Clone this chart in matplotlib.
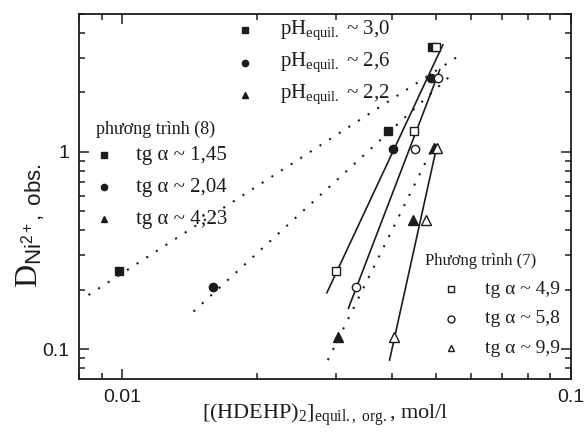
"""
Log-log plot of D(Ni2+) vs [(HDEHP)2] equil., org. with slope fits for
equation (8) (filled markers, dotted lines) and equation (7) (open markers, solid lines).
"""

import matplotlib
matplotlib.use("Agg")
import matplotlib.pyplot as plt
from matplotlib.ticker import FixedLocator, LogLocator, NullFormatter, FuncFormatter

# measured distribution ratios (same for both equations)
D_PH30 = [0.25, 1.27, 3.42]
D_PH26 = [0.206, 1.04, 2.38]
D_PH22 = [0.115, 0.452, 1.05]

# x values for equation (8) (filled markers)
X8_PH30 = [0.0098, 0.0391, 0.0489]
X8_PH26 = [0.0159, 0.0401, 0.0487]
X8_PH22 = [0.0303, 0.0445, 0.0495]

# x values for equation (7) (open markers)
X7_PH30 = [0.0300, 0.0447, 0.0500]
X7_PH26 = [0.0332, 0.0450, 0.0506]
X7_PH22 = [0.0403, 0.0474, 0.0502]

# fitted straight lines (end points)
FIT8_X = [[0.0084, 0.0574], [0.0144, 0.0535], [0.0287, 0.0497]]
FIT8_Y = [[0.188, 3.16], [0.155, 2.40], [0.0879, 1.10]]
FIT7_X = [[0.02856, 0.0518], [0.0319, 0.0510], [0.0394, 0.0503]]
FIT7_Y = [[0.193, 3.49], [0.161, 2.61], [0.0879, 1.085]]

PH_LABELS = ["~ 3,0", "~ 2,6", "~ 2,2"]
EQ8_LABELS = ["tg \u03b1 ~ 1,45", "tg \u03b1 ~ 2,04", "tg \u03b1 ~ 4;23"]
EQ7_LABELS = ["tg \u03b1 ~ 4,9", "tg \u03b1 ~ 5,8", "tg \u03b1 ~ 9,9"]

MARKERS = ["s", "o", "^"]
INK = "#1c1c1c"
SERIF = "Liberation Serif"

plt.rcParams["mathtext.fontset"] = "custom"
plt.rcParams["mathtext.rm"] = SERIF
plt.rcParams["mathtext.it"] = SERIF + ":italic"
plt.rcParams["mathtext.sf"] = "Liberation Sans"

fig = plt.figure(figsize=(5.87, 4.34), dpi=100)
ax = fig.add_axes([0.1346, 0.1267, 0.8381, 0.841])
ax.set_xscale("log")
ax.set_yscale("log")

# fits
for xs, ys in zip(FIT8_X, FIT8_Y):
    ax.plot(xs, ys, color=INK, lw=1.5, linestyle=(0, (1, 4.5)))
for xs, ys in zip(FIT7_X, FIT7_Y):
    ax.plot(xs, ys, color=INK, lw=1.2)

# data points
sizes = [6, 6, 6.5]
for xs, ys, m, s in zip([X8_PH30, X8_PH26, X8_PH22], [D_PH30, D_PH26, D_PH22], MARKERS, sizes):
    ax.plot(xs, ys, linestyle="none", marker=m, ms=s, color=INK, mec=INK)
for xs, ys, m, s in zip([X7_PH30, X7_PH26, X7_PH22], [D_PH30, D_PH26, D_PH22], MARKERS, sizes):
    ax.plot(xs, ys, linestyle="none", marker=m, ms=s, mfc="white", mec=INK, mew=1.0)

ax.set_xlim(0.008, 0.1)
ax.set_ylim(0.0705, 5.0)

# ticks
ax.xaxis.set_major_locator(FixedLocator([0.01, 0.1]))
ax.yaxis.set_major_locator(FixedLocator([0.1, 1]))
ax.xaxis.set_minor_locator(LogLocator(base=10, subs=range(2, 10)))
ax.yaxis.set_minor_locator(LogLocator(base=10, subs=range(2, 10)))
ax.xaxis.set_minor_formatter(NullFormatter())
ax.yaxis.set_minor_formatter(NullFormatter())
fmt = FuncFormatter(lambda v, p: "%g" % v)
ax.xaxis.set_major_formatter(fmt)
ax.yaxis.set_major_formatter(fmt)
ax.tick_params(which="both", direction="in", top=True, right=True, color=INK, width=1.1)
ax.tick_params(which="major", length=7, labelsize=14, pad=7)
ax.tick_params(which="minor", length=4)
for lab in ax.get_xticklabels() + ax.get_yticklabels():
    lab.set_fontfamily("Liberation Sans")
    lab.set_color(INK)
for sp in ax.spines.values():
    sp.set_linewidth(1.3)
    sp.set_color(INK)

# axis labels
ax.set_xlabel(r"$[(\mathrm{HDEHP})_2]_{\mathrm{equil.,\ org.}}$, mol/l",
              fontsize=16, family=SERIF, color=INK)
ax.xaxis.set_label_coords(0.5, -0.062)
ax.set_ylabel(r"$\mathrm{D}_{\mathsf{Ni^{2+},\ obs.}}$", fontsize=23, color=INK)
ax.yaxis.set_label_coords(-0.066, 0.42)

# legend blocks drawn as text + keys in axes coordinates
tr = ax.transAxes

def key_block(x_key, x_text, y_top, step, markers, labels, filled, fsize, msize):
    for i, (m, lab) in enumerate(zip(markers, labels)):
        y = y_top - i * step
        if filled:
            ax.plot([x_key], [y], marker=m, ms=msize, color=INK, transform=tr, clip_on=False)
        else:
            ax.plot([x_key], [y], marker=m, ms=msize, mfc="white", mec=INK, mew=1.0,
                    transform=tr, clip_on=False)
        ax.text(x_text, y, lab, transform=tr, ha="left", va="center",
                fontsize=fsize, family=SERIF, color=INK)

ph_texts = [r"$\mathrm{pH_{equil.}}$ " + s for s in PH_LABELS]
key_block(0.3374, 0.4085, 0.955, 0.088, MARKERS, ph_texts, True, 15, 4.5)

ax.text(0.034, 0.685, "ph\u01b0\u01a1ng tr\u00ecnh (8)", transform=tr, ha="left",
        va="center", fontsize=13, family=SERIF, color=INK)
key_block(0.0518, 0.1159, 0.613, 0.0877, MARKERS, EQ8_LABELS, True, 15, 4.5)

ax.text(0.703, 0.323, "Ph\u01b0\u01a1ng tr\u00ecnh (7)", transform=tr, ha="left",
        va="center", fontsize=12, family=SERIF, color=INK)
key_block(0.756, 0.825, 0.2466, 0.081, MARKERS, EQ7_LABELS, False, 14, 5)

fig.savefig("out.png", dpi=100, facecolor="white")
